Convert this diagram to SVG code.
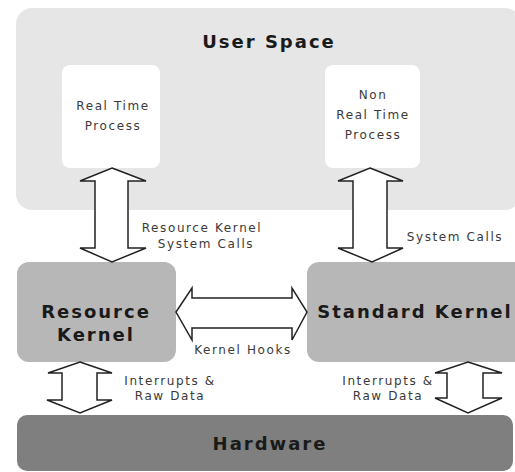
<svg xmlns="http://www.w3.org/2000/svg" width="515" height="472" viewBox="0 0 515 472">
<style>
.t{font-family:"DejaVu Sans","Liberation Sans",sans-serif;fill:#222;text-anchor:middle}
.big{font-size:18px;font-weight:bold;letter-spacing:2px;fill:#1a1a1a}
.sm{font-size:12px;letter-spacing:1.6px;fill:#3a3a3a}
.arr{fill:#fff;stroke:#222;stroke-width:1.5;stroke-linejoin:miter}
</style>
<rect width="515" height="472" fill="#fff"/>
<g id="user-space">
<rect x="16" y="8" width="505" height="202" rx="16" fill="#e6e6e6"/>
<text class="t big" x="269" y="48">User Space</text>
</g>
<g id="rt-process">
<rect x="62" y="65" width="98" height="103" rx="8" fill="#fff"/>
<text class="t sm" x="113" y="110">Real Time</text>
<text class="t sm" x="113" y="130">Process</text>
</g>
<g id="nrt-process">
<rect x="325" y="65" width="95" height="103" rx="8" fill="#fff"/>
<text class="t sm" x="373" y="99">Non</text>
<text class="t sm" x="373" y="119">Real Time</text>
<text class="t sm" x="373" y="139">Process</text>
</g>
<g id="resource-kernel">
<rect x="17" y="262" width="159" height="100" rx="12" fill="#b7b7b7"/>
<text class="t big" x="96" y="318">Resource</text>
<text class="t big" x="96" y="341">Kernel</text>
</g>
<g id="standard-kernel">
<rect x="307" y="262" width="220" height="100" rx="12" fill="#b7b7b7"/>
<text class="t big" x="415" y="318">Standard Kernel</text>
</g>
<g id="hardware">
<rect x="17" y="415" width="496" height="56" rx="10" fill="#7f7f7f"/>
<text class="t big" x="270" y="450">Hardware</text>
</g>
<g id="connectors">
<polygon class="arr" points="112,168 146,181 128,181 128,248 146,248 112,262 80,248 95,248 95,181 80,181"/>
<polygon class="arr" points="370,168 403,181 387,181 387,248 403,248 372,262 338,248 353,248 353,181 338,181"/>
<polygon class="arr" points="176,312 192,288 192,298 292,298 292,288 307,312 292,340 292,328 192,328 192,340"/>
<polygon class="arr" points="80,362 112,373 97,373 97,400 112,400 80,413 47,400 62,400 62,373 48,373"/>
<polygon class="arr" points="468,362 502,373 483,373 483,398 502,398 468,413 435,398 447,398 447,373 435,373"/>
<text class="t sm" x="202" y="232">Resource Kernel</text>
<text class="t sm" x="206" y="248">System Calls</text>
<text class="t sm" x="455" y="241">System Calls</text>
<text class="t sm" x="243" y="354">Kernel Hooks</text>
<text class="t sm" x="170" y="385">Interrupts &amp;</text>
<text class="t sm" x="170" y="400">Raw Data</text>
<text class="t sm" x="388" y="385">Interrupts &amp;</text>
<text class="t sm" x="388" y="400">Raw Data</text>
</g>
</svg>
